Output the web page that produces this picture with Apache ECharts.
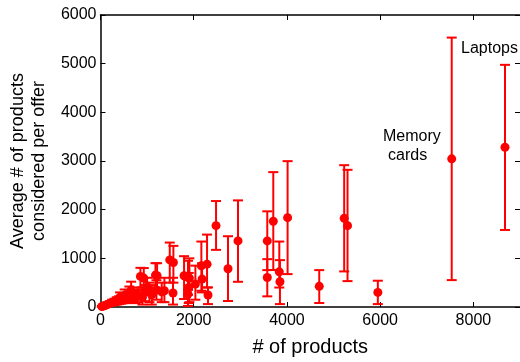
<!DOCTYPE html>
<html>
<head>
<meta charset="utf-8">
<script src="https://cdn.jsdelivr.net/npm/echarts@6/dist/echarts.min.js"></script>
<style>
  html, body { margin: 0; padding: 0; background: #fff; }
  #main { width: 520px; height: 362px; }
</style>
</head>
<body>
<div id="main"></div>
<script>
// number of products, mean, error bar low / high
var xs = [8678, 7535, 5950, 4693, 5228, 5300, 4014, 3707, 3578, 3578, 3836, 3850,
  2950, 2736, 2479, 2286, 2307, 2164, 2179, 2036, 1907, 1793, 1877, 1893, 1877,
  1564, 1556, 1486, 1371, 1314, 1214, 1179, 857, 929, 657,
  1000, 1050, 900, 950, 800, 750, 700, 600, 550, 500, 450, 400, 350, 300, 250, 200,
  150, 100, 60, 30, 1100, 1200, 620, 520, 420];
var ys = [3283, 3045, 300, 424, 1822, 1672, 1836, 1761, 1358, 607, 723, 518,
  1358, 785, 1672, 880, 246, 846, 573, 471, 594, 641, 608, 403, 266,
  915, 287, 968, 334, 313, 641, 655, 628, 594, 348,
  400, 300, 200, 300, 250, 200, 220, 200, 180, 170, 150, 140, 120, 100, 90, 70,
  50, 30, 20, 10, 250, 350, 280, 240, 200];
var lo = [1583, 553, 60, 82, 731, 532, 676, 760, 758, 219, 400, 60,
  518, 123, 1174, 400, 60, 334, 300, 150, 100, 164, 250, 80, 20,
  500, 50, 500, 100, 100, 300, 400, 400, 350, 150,
  250, 100, 50, 120, 100, 80, 100, 100, 80, 80, 70, 60, 50, 40, 40, 30,
  20, 10, 5, 2, 50, 150, 150, 120, 100];
var hi = [4976, 5536, 540, 758, 2914, 2819, 2997, 2771, 1966, 983, 1345, 963,
  2191, 1454, 2177, 1488, 403, 1345, 900, 850, 1000, 1044, 950, 700, 350,
  1256, 600, 1324, 600, 500, 900, 901, 805, 800, 520,
  600, 500, 400, 450, 400, 350, 330, 300, 280, 260, 240, 220, 200, 170, 150, 120,
  90, 60, 40, 25, 450, 550, 420, 360, 300];

var points = xs.map(function (x, i) { return [x, ys[i]]; });
var bars = xs.map(function (x, i) { return [x, lo[i], hi[i]]; });

var red = '#ff0000';
var chart = echarts.init(document.getElementById('main'));

var tickStyle = { show: true, inside: true, length: 5, lineStyle: { color: '#000', width: 1 } };
var lineStyle = { show: true, onZero: false, lineStyle: { color: '#000', width: 1.5 } };
var font = 'Liberation Sans';
var plain = function (v) { return String(v); };

chart.setOption({
  animation: false,
  grid: { left: 100, right: 0, top: 15, bottom: 54 },
  xAxis: [{
    type: 'value', min: 0, max: 9000, interval: 2000,
    name: '# of products', nameLocation: 'middle', nameGap: 30,
    nameTextStyle: { fontFamily: font, fontSize: 20, color: '#000' },
    axisLine: lineStyle, axisTick: tickStyle, splitLine: { show: false },
    axisLabel: { fontFamily: font, fontSize: 16, color: '#000', margin: 6, showMaxLabel: false, formatter: plain }
  }, {
    type: 'value', min: 0, max: 9000, interval: 2000, position: 'top',
    axisLine: lineStyle, axisTick: tickStyle, splitLine: { show: false },
    axisLabel: { show: false }
  }],
  yAxis: [{
    type: 'value', min: 0, max: 6000, interval: 1000,
    name: 'Average # of products\nconsidered per offer', nameLocation: 'middle', nameGap: 46,
    nameTextStyle: { fontFamily: font, fontSize: 18, color: '#000', lineHeight: 21 },
    axisLine: lineStyle, axisTick: tickStyle, splitLine: { show: false },
    axisLabel: { fontFamily: font, fontSize: 16, color: '#000', margin: 4, formatter: plain }
  }, {
    // right edge falls just outside the picture, only the ticks show
    type: 'value', min: 0, max: 6000, interval: 1000, position: 'right',
    axisLine: { show: false, onZero: false }, axisTick: tickStyle, splitLine: { show: false },
    axisLabel: { show: false }
  }],
  series: [{
    type: 'custom',
    data: bars,
    clip: false,
    renderItem: function (params, api) {
      var x = api.value(0);
      var a = api.coord([x, api.value(1)]);
      var b = api.coord([x, api.value(2)]);
      var w = 5;
      var st = { stroke: red, lineWidth: 2 };
      return {
        type: 'group',
        children: [
          { type: 'line', shape: { x1: a[0], y1: a[1], x2: b[0], y2: b[1] }, style: st },
          { type: 'line', shape: { x1: a[0] - w, y1: a[1], x2: a[0] + w, y2: a[1] }, style: st },
          { type: 'line', shape: { x1: b[0] - w, y1: b[1], x2: b[0] + w, y2: b[1] }, style: st }
        ]
      };
    }
  }, {
    type: 'scatter',
    data: points,
    symbol: 'circle',
    symbolSize: 9,
    itemStyle: { color: red, opacity: 1 }
  }],
  graphic: [
    { type: 'text', left: 461, top: 41, style: { text: 'Laptops', font: '16px "Liberation Sans"', fill: '#000' } },
    { type: 'text', left: 383, top: 129, style: { text: 'Memory', font: '16px "Liberation Sans"', fill: '#000' } },
    { type: 'text', left: 388, top: 148, style: { text: 'cards', font: '16px "Liberation Sans"', fill: '#000' } }
  ]
});
</script>
</body>
</html>
